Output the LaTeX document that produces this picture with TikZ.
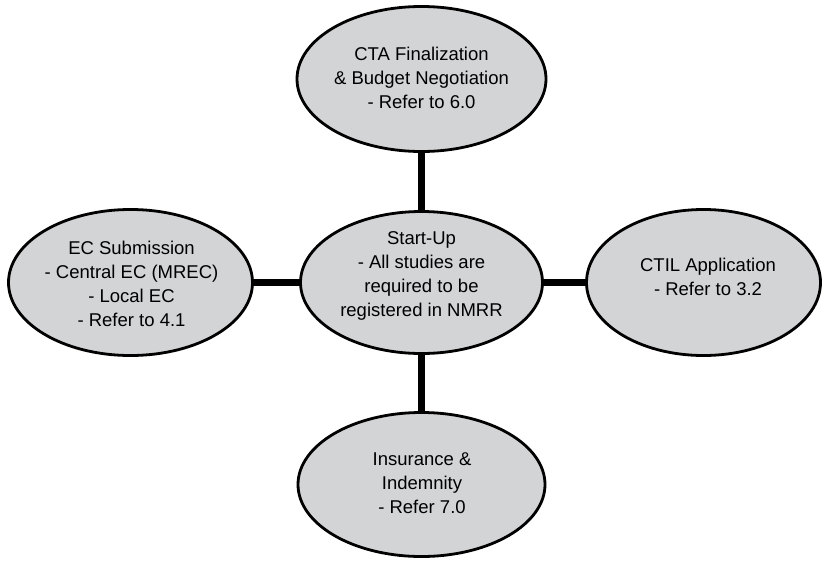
\documentclass[tikz,border=0pt]{standalone}
\usepackage{fontspec}
\setmainfont{Liberation Sans}
\usetikzlibrary{shapes.geometric,backgrounds}
\definecolor{bubble}{RGB}{211,212,214}
\begin{document}
\begin{tikzpicture}[x=1pt,y=-1pt,
  bub/.style={ellipse, draw=black, line width=2.8pt, fill=bubble, inner sep=0pt},
  lbl/.style={align=center, font=\fontsize{18.5}{24}\selectfont, inner sep=0pt},
  link/.style={line width=7.5pt, draw=black}]
\useasboundingbox (0,0) rectangle (824,560);
\node[bub, minimum width=249pt, minimum height=145pt] (top) at (421.5,79) {};
\node[bub, minimum width=242pt, minimum height=142pt] (ctr) at (421.5,282.5) {};
\node[bub, minimum width=244pt, minimum height=146pt] (lft) at (130.5,282.5) {};
\node[bub, minimum width=234pt, minimum height=146pt] (rgt) at (703.5,282.5) {};
\node[bub, minimum width=247pt, minimum height=144pt] (bot) at (421.5,484.5) {};
\begin{scope}[on background layer]
\draw[link] (top.center) -- (ctr.center);
\draw[link] (ctr.center) -- (bot.center);
\draw[link] (lft.center) -- (ctr.center);
\draw[link] (ctr.center) -- (rgt.center);
\end{scope}
\node[lbl] (ttop) at (421.5,78) {CTA Finalization\\\& Budget Negotiation\\- Refer to 6.0};
\node[lbl] (tctr) at (421.5,276) {Start-Up\\- All studies are\\required to be\\registered in NMRR};
\node[lbl] (tlft) at (131.5,284) {EC Submission\\- Central EC (MREC)\\- Local EC\\- Refer to 4.1};
\node[lbl] (trgt) at (708,277) {CTIL Application\\- Refer to 3.2};
\node[lbl] (tbot) at (422,483) {Insurance \&\\Indemnity\\- Refer 7.0};
\end{tikzpicture}
\end{document}
